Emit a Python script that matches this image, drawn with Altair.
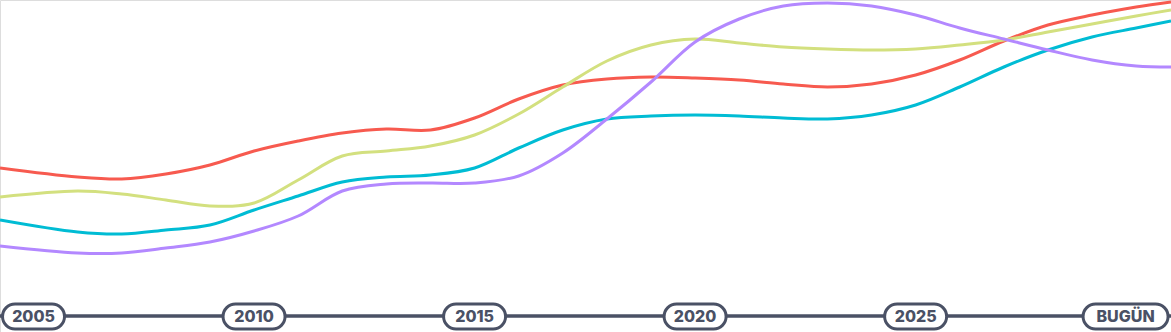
import altair as alt
import pandas as pd

# Shared year grid (the chart runs slightly before 2005 and slightly past 2030)
years = [2004.24, 2006, 2007, 2008, 2009, 2010, 2011, 2012, 2013, 2014, 2015,
         2016, 2017, 2018, 2019, 2020, 2021, 2022, 2023, 2024, 2025, 2026,
         2027, 2028, 2029, 2030, 2030.79]

# Index values per series (higher = further up)
red = [102, 93, 91, 96, 105, 119, 129, 137, 141, 140, 152, 171, 185, 191, 193,
       192, 190, 186, 183, 186, 195, 210, 229, 245, 255, 263, 268]
green = [73, 79, 76, 70, 64, 67, 90, 114, 119, 124, 135, 156, 183, 209, 225,
         231, 227, 223, 221, 220, 221, 225, 230, 238, 246, 254, 260]
cyan = [50, 38, 36, 40, 45, 60, 74, 88, 93, 95, 102, 122, 140, 151, 154, 155,
        154, 152, 151, 155, 165, 183, 203, 220, 233, 242, 249]
purple = [24, 17, 17, 22, 28, 39, 54, 79, 86, 87, 87, 94, 117, 151, 188, 228,
          251, 264, 267, 264, 255, 242, 231, 220, 210, 204, 203]

series_names = ["red", "green", "cyan", "purple"]
series_values = [red, green, cyan, purple]
series_colors = ["#f75a4f", "#d3e07f", "#00bcd4", "#b388ff"]

tick_labels = ["2005", "2010", "2015", "2020", "2025"]
tick_years = [2005, 2010, 2015, 2020, 2025]
now_label = "BUGÜN"
now_year = 2029.76

rows = []
for name, vals in zip(series_names, series_values):
    for yr, v in zip(years, vals):
        rows.append({"series": name, "year": yr, "value": v})
df = pd.DataFrame(rows)

ticks_df = pd.DataFrame({"year": tick_years, "label": tick_labels})
now_df = pd.DataFrame({"year": [now_year], "label": [now_label]})

W, H = 1171, 332
xscale = alt.Scale(domain=[years[0], years[-1]], range=[0, W])
yscale = alt.Scale(domain=[0, 270], range=[270, 0])
axis_col = "#4a5165"

lines = alt.Chart(df).mark_line(strokeWidth=3, interpolate="catmull-rom").encode(
    x=alt.X("year:Q", scale=xscale, axis=None),
    y=alt.Y("value:Q", scale=yscale, axis=None),
    color=alt.Color("series:N", scale=alt.Scale(domain=series_names, range=series_colors), legend=None),
    order=alt.Order("year:Q"),
)

baseline = alt.Chart(pd.DataFrame({"a": [0]})).mark_rule(
    color=axis_col, strokeWidth=3.5
).encode(x=alt.value(0), x2=alt.value(W), y=alt.value(316))

pills = alt.Chart(ticks_df).mark_rect(
    width=62, height=25, cornerRadius=12.5, fill="white", stroke=axis_col, strokeWidth=3
).encode(x=alt.X("year:Q", scale=xscale, axis=None), y=alt.value(316.5))

now_pill = alt.Chart(now_df).mark_rect(
    width=85, height=25, cornerRadius=12.5, fill="white", stroke=axis_col, strokeWidth=3
).encode(x=alt.X("year:Q", scale=xscale, axis=None), y=alt.value(316.5))

text_props = dict(font="Inter", fontSize=16, fontWeight=800, color=axis_col,
                  align="center", baseline="middle")
tick_text = alt.Chart(ticks_df).mark_text(**text_props).encode(
    x=alt.X("year:Q", scale=xscale, axis=None), y=alt.value(317), text="label:N")
now_text = alt.Chart(now_df).mark_text(**text_props).encode(
    x=alt.X("year:Q", scale=xscale, axis=None), y=alt.value(317), text="label:N")

chart = alt.layer(lines, baseline, pills, now_pill, tick_text, now_text).properties(
    width=W, height=H, autosize=alt.AutoSizeParams(type="none"), padding=0
).configure_view(stroke=None).configure(background="white")

chart.save("out.html", embed_options={"renderer": "svg", "actions": False})
